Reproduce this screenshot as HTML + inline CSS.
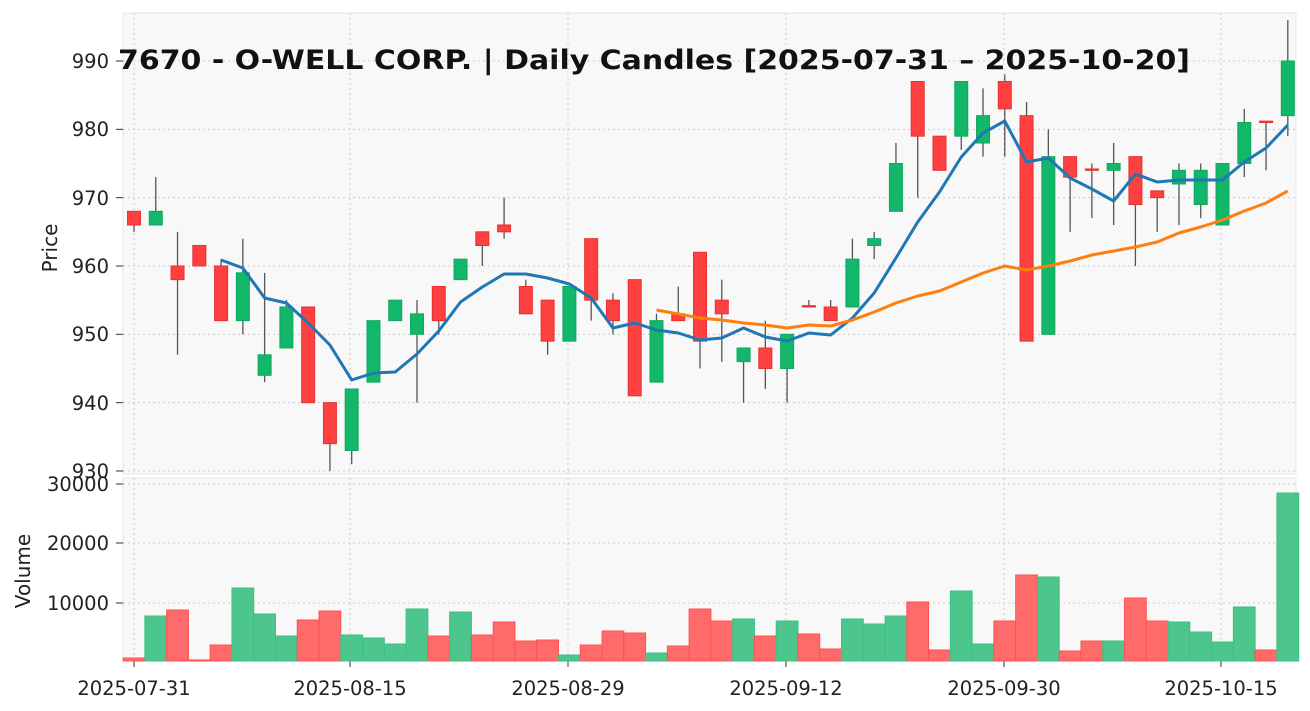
<!DOCTYPE html>
<html><head><meta charset="utf-8"><style>
body{margin:0;background:#fff;}
svg{display:block;font-family:"DejaVu Sans","Liberation Sans",sans-serif;}
</style></head><body>
<svg id="s" width="1310" height="711" xmlns="http://www.w3.org/2000/svg">
<rect x="123" y="13" width="1173" height="461" fill="#f8f8f8" stroke="#e6e6e6"/>
<rect x="123" y="478" width="1173" height="183" fill="#f8f8f8" stroke="#e6e6e6"/>
<g id="grid" stroke="#cccccc" stroke-dasharray="2,3" stroke-width="1"></g>
<g id="vol"></g>
<g id="cd"></g>
<g id="ma"></g>
<g font-size="19.5" fill="#222" text-anchor="end">
<text x="109" y="68">990</text><text x="109" y="136">980</text><text x="109" y="205">970</text>
<text x="109" y="273">960</text><text x="109" y="341">950</text><text x="109" y="410">940</text>
<text x="109" y="478">930</text>
<text x="109" y="491">30000</text><text x="109" y="550">20000</text><text x="109" y="610">10000</text>
</g>
<g font-size="19.5" fill="#222" text-anchor="middle">
<text x="134" y="695">2025-07-31</text><text x="350" y="695">2025-08-15</text><text x="568" y="695">2025-08-29</text>
<text x="786" y="695">2025-09-12</text><text x="1004" y="695">2025-09-30</text><text x="1221" y="695">2025-10-15</text>
</g>
<text x="57" y="248" font-size="20" fill="#222" text-anchor="middle" transform="rotate(-90 57 248)">Price</text>
<text x="30" y="571" font-size="20" fill="#222" text-anchor="middle" transform="rotate(-90 30 571)">Volume</text>
<text x="654" y="69" font-size="27" font-weight="bold" fill="#111" text-anchor="middle" textLength="1072" lengthAdjust="spacingAndGlyphs">7670 - O-WELL CORP. | Daily Candles [2025-07-31 – 2025-10-20]</text>
</svg>
<script>
var NS="http://www.w3.org/2000/svg";
function el(p,t,a){var e=document.createElementNS(NS,t);for(var k in a)e.setAttribute(k,a[k]);document.getElementById(p).appendChild(e);return e;}
function X(i){return 134+i*21.77;}
function Y(p){return 61+(990-p)*6.833;}
[134,350,568,786,1004,1221].forEach(function(x){el("grid","line",{x1:x,x2:x,y1:13,y2:474});el("grid","line",{x1:x,x2:x,y1:478,y2:661});el("grid","line",{x1:x,x2:x,y1:661,y2:667,stroke:"#333","stroke-dasharray":"none"});});
[930,940,950,960,970,980,990].forEach(function(p){el("grid","line",{x1:123,x2:1296,y1:Y(p),y2:Y(p)});el("grid","line",{x1:116,x2:123,y1:Y(p),y2:Y(p),stroke:"#333","stroke-dasharray":"none"});});
[484,543,603].forEach(function(y){el("grid","line",{x1:123,x2:1296,y1:y,y2:y});el("grid","line",{x1:116,x2:123,y1:y,y2:y,stroke:"#333","stroke-dasharray":"none"});});
var D=[[968,966,968,965],[966,968,973,966],[960,958,965,947],[963,960,963,960],[960,952,961,952],[952,959,964,950],[944,947,959,943],[948,954,955,948],[954,940,954,940],[940,934,940,930],[933,942,942,931],[943,952,952,943],[952,955,955,952],[950,953,955,940],[957,952,957,950],[958,961,961,958],[965,963,965,960],[966,965,970,964],[957,953,958,953],[955,949,955,947],[949,957,957,949],[964,955,964,952],[955,952,956,950],[958,941,958,941],[943,952,953,943],[953,952,957,952],[962,949,962,945],[955,953,958,946],[946,948,948,940],[948,945,952,942],[945,950,950,940],[954.2,954,955,954],[954,952,955,952],[954,961,964,954],[963,964,965,961],[968,975,978,968],[987,979,987,970],[979,974,979,974],[979,987,987,977],[978,982,986,976],[987,983,988,976],[982,949,984,949],[950,976,980,950],[976,973,976,965],[974.2,974,975,967],[974,975,978,966],[976,969,976,960],[971,970,971,965],[972,974,975,966],[969,974,975,967],[966,975,975,966],[975,981,983,973],[981.2,981,981,974],[982,990,996,979]];
var V=[658,616,610,660,645,588,614,636,620,611,635,638,644,609,636,612,635,622,641,640,655,645,631,633,653,646,609,621,619,636,621,634,649,619,624,616,602,650,591,644,621,575,577,651,641,641,598,621,622,632,642,607,650,493];
D.forEach(function(d,i){var x=X(i),up=d[1]>d[0];
el("vol","rect",{x:x-10.9,y:V[i],width:21.77,height:661-V[i],fill:up?"#4cc68c":"#ff6b6b",stroke:up?"#3cc080":"#ff5050","stroke-width":1});
el("cd","line",{x1:x,x2:x,y1:Y(d[2]),y2:Y(d[3]),stroke:"#555","stroke-width":1.3});
var t=Y(Math.max(d[0],d[1])),b=Y(Math.min(d[0],d[1]));
el("cd","rect",{x:x-6.5,y:t,width:13,height:Math.max(b-t,1.2),fill:up?"#12b76a":"#ff4040",stroke:up?"#0fa860":"#e83030","stroke-width":1});});
var B=[[4,260],[5,268],[6,298],[7,303],[8,323],[9,345],[10,380],[11,373],[12,372],[13,354],[14,331],[15,302],[16,287],[17,274],[18,274],[19,278],[20,284],[21,298],[22,328],[23,323],[24,330],[25,333],[26,340],[27,338],[28,328],[29,337],[30,341],[31,333],[32,335],[33,318],[34,293],[35,258],[36,222],[37,192],[38,157],[39,133],[40,121],[41,162],[42,158],[43,178],[44,189],[45,201],[46,174],[47,182],[48,180],[49,180],[50,180],[51,162],[52,148],[53,125]];
var O=[[24,310],[25,314],[26,318],[27,320],[28,323],[29,325],[30,328],[31,325],[32,326],[33,320],[34,312],[35,303],[36,296],[37,291],[38,282],[39,273],[40,266],[41,270],[42,266],[43,261],[44,255],[45,251],[46,247],[47,242],[48,233],[49,227],[50,220],[51,211],[52,203],[53,191]];
function pl(a,c){el("ma","polyline",{points:a.map(function(p){return X(p[0])+","+p[1];}).join(" "),fill:"none",stroke:c,"stroke-width":3,"stroke-linejoin":"round"});}
pl(B,"#1f77b4");pl(O,"#ff7f0e");
</script>
</body></html>
